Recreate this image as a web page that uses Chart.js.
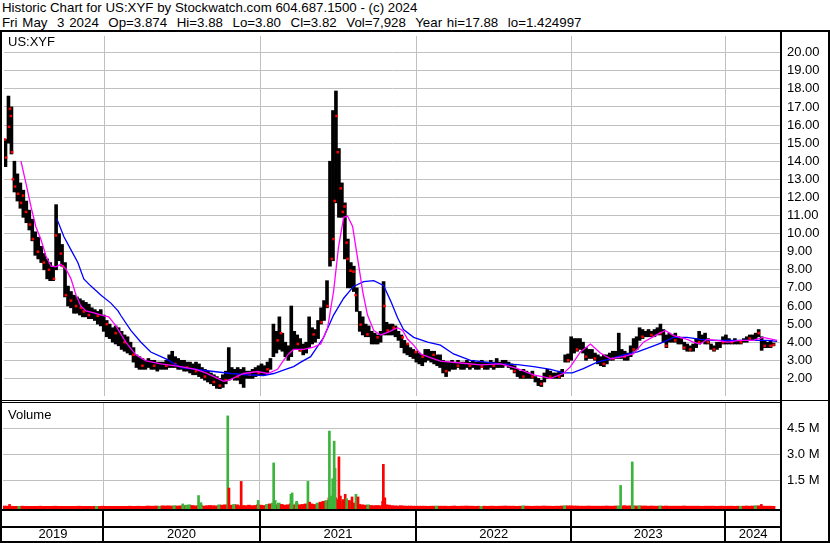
<!DOCTYPE html>
<html>
<head>
<meta charset="utf-8">
<title>Historic Chart US:XYF</title>
<script src="https://cdn.jsdelivr.net/npm/chart.js@4.4.1/dist/chart.umd.min.js"></script>
<style>
  html, body { margin: 0; padding: 0; background: #fff; }
  body { width: 830px; height: 543px; position: relative; overflow: hidden; font-family: "Liberation Sans", Arial, sans-serif; }
  .hdr { position: absolute; left: 2px; font-size: 13.3px; line-height: 15px; white-space: pre; color: #000; }
  .lbl { position: absolute; left: 8px; font-size: 13px; color: #000; }
  .rule { position: absolute; background: #000; }
  canvas { position: absolute; left: 0; }
</style>
</head>
<body>
<div class="hdr" style="top:0px">Historic Chart for US:XYF by Stockwatch.com 604.687.1500 - (c) 2024</div>
<div class="hdr" style="top:15px;word-spacing:1.1px">Fri May  3 2024  Op=3.874  Hi=3.88  Lo=3.80  Cl=3.82  Vol=7,928  Year hi=17.88  lo=1.424997</div>

<canvas id="priceChart" width="830" height="368" style="top:32px"></canvas>
<canvas id="volumeChart" width="830" height="140" style="top:403px"></canvas>

<div class="lbl" style="top:34px">US:XYF</div>
<div class="lbl" style="top:407px">Volume</div>

<!-- black frame -->
<div class="rule" style="left:0;top:30px;width:830px;height:2px"></div>
<div class="rule" style="left:0;top:30px;width:2px;height:513px"></div>
<div class="rule" style="left:780px;top:30px;width:2px;height:513px"></div>
<div class="rule" style="left:828px;top:30px;width:2px;height:513px"></div>
<div class="rule" style="left:0;top:400px;width:830px;height:1px"></div>
<div class="rule" style="left:0;top:402px;width:781px;height:1px"></div>
<div class="rule" style="left:0;top:509px;width:781px;height:2px"></div>
<div class="rule" style="left:0;top:526px;width:781px;height:2px"></div>
<div class="rule" style="left:0;top:541px;width:830px;height:2px"></div>

<script>
// ---------------------------------------------------------------
// data (weekly, week 0 = first week of May 2019)
// ---------------------------------------------------------------
const yearLabels = ['2019', '2020', '2021', '2022', '2023', '2024']
const yearStarts = [33.6, 86.2, 138.6, 190.6, 242.3]   // week where a new year begins
const weekSpan = 261

const priceTicks = [20, 19, 18, 17, 16, 15, 14, 13, 12, 11, 10, 9, 8, 7, 6, 5, 4, 3, 2]
const priceTickLabels = ['20.00', '19.00', '18.00', '17.00', '16.00', '15.00', '14.00', '13.00', '12.00',
  '11.00', '10.00', '9.00', '8.00', '7.00', '6.00', '5.00', '4.00', '3.00', '2.00']
const volTicks = [1.5, 3.0, 4.5]
const volTickLabels = ['1.5 M', '3.0 M', '4.5 M']

const weekHigh = [
  15.2, 17.6, 17.0, 14.0, 13.3, 12.8, 12.4, 11.8, 11.3, 10.8,
  10.1, 9.8, 9.3, 8.9, 8.6, 8.4, 8.2, 11.6, 10.0, 9.4,
  8.4, 7.1, 6.8, 6.6, 6.5, 6.4, 6.3, 6.2, 6.1, 5.9,
  5.8, 5.7, 5.8, 5.5, 5.2, 5.0, 4.8, 4.9, 4.8, 4.6,
  4.4, 4.3, 4.0, 3.7, 3.3, 3.2, 3.1, 3.0, 3.1, 3.0,
  3.0, 2.9, 2.9, 2.9, 3.0, 3.3, 3.5, 3.2, 3.1, 3.0,
  3.0, 2.9, 2.9, 2.8, 2.9, 2.8, 2.6, 2.5, 2.4, 2.3,
  2.2, 2.1, 2.0, 2.2, 2.4, 3.7, 2.6, 2.5, 2.6, 2.5,
  2.6, 2.4, 2.4, 2.5, 2.6, 2.7, 2.8, 2.7, 2.9, 3.1,
  5.0, 4.6, 5.4, 4.5, 4.0, 3.8, 6.0, 4.6, 4.4, 4.2,
  3.9, 4.0, 5.4, 4.8, 4.7, 5.2, 5.9, 6.3, 7.4, 14.0,
  16.8, 17.88, 14.7, 12.8, 11.7, 9.7, 8.4, 8.2, 7.0, 5.7,
  5.4, 5.0, 4.9, 4.6, 4.5, 4.4, 4.6, 7.35, 5.1, 5.0,
  5.0, 4.9, 4.6, 4.4, 4.1, 3.9, 3.7, 3.6, 3.5, 3.4,
  3.3, 3.6, 3.6, 3.5, 3.5, 3.3, 3.3, 3.0, 2.9, 2.9,
  3.0, 2.9, 3.0, 2.9, 2.9, 3.0, 2.9, 3.0, 2.9, 2.9,
  3.0, 2.9, 2.9, 3.0, 2.9, 3.1, 2.9, 3.0, 3.0, 2.9,
  2.8, 2.7, 2.5, 2.4, 2.5, 2.4, 2.3, 2.4, 2.1, 2.0,
  1.9, 2.3, 2.5, 2.4, 2.3, 2.3, 2.4, 2.5, 3.3, 3.35,
  4.3, 4.2, 4.2, 4.2, 4.0, 3.7, 3.6, 3.6, 3.4, 3.3,
  3.2, 3.3, 3.3, 3.4, 3.5, 3.5, 4.5, 3.6, 3.5, 3.4,
  3.8, 4.2, 4.3, 4.8, 4.7, 4.6, 4.7, 4.6, 4.7, 4.8,
  5.0, 4.7, 4.4, 4.5, 4.4, 4.5, 4.3, 4.2, 4.0, 3.9,
  3.8, 3.9, 4.2, 4.6, 4.4, 4.5, 4.2, 3.9, 3.8, 4.0,
  4.0, 4.3, 4.4, 4.2, 4.1, 4.2, 4.1, 4.1, 4.2, 4.3,
  4.4, 4.4, 4.5, 4.7, 4.3, 4.1, 4.0, 4.1, 3.95
]

const weekLow = [
  13.7, 15.0, 14.4, 12.3, 11.8, 11.4, 10.9, 10.6, 10.2, 9.6,
  8.8, 8.6, 8.4, 8.0, 7.5, 7.4, 7.4, 8.0, 8.5, 8.2,
  6.5, 6.0, 5.9, 5.6, 5.6, 5.5, 5.4, 5.4, 5.3, 5.3,
  5.2, 5.0, 4.9, 4.6, 4.3, 4.2, 4.0, 3.9, 3.8, 3.6,
  3.5, 3.4, 3.3, 2.9, 2.6, 2.5, 2.5, 2.5, 2.6, 2.5,
  2.5, 2.4, 2.5, 2.5, 2.5, 2.6, 2.6, 2.6, 2.5, 2.5,
  2.4, 2.4, 2.3, 2.2, 2.2, 2.1, 2.0, 1.9, 1.8, 1.7,
  1.6, 1.45, 1.43, 1.5, 1.7, 1.9, 2.0, 1.9, 1.9, 1.7,
  1.5, 2.0, 2.0, 2.0, 2.1, 2.2, 2.2, 2.2, 2.3, 2.5,
  3.2, 3.4, 3.6, 3.5, 3.2, 3.0, 3.2, 3.6, 3.6, 3.5,
  3.3, 3.4, 3.7, 3.9, 4.0, 4.2, 5.0, 5.2, 5.9, 8.2,
  8.5, 11.7, 10.9, 10.9, 8.6, 7.0, 7.0, 6.8, 5.7, 4.6,
  4.4, 4.3, 4.3, 3.9, 3.9, 3.9, 4.0, 4.4, 4.4, 4.4,
  4.4, 4.3, 4.1, 3.7, 3.4, 3.3, 3.2, 3.1, 2.9, 2.8,
  2.7, 2.9, 3.0, 2.9, 2.8, 2.7, 2.6, 2.3, 2.1, 2.4,
  2.5, 2.5, 2.6, 2.5, 2.5, 2.6, 2.5, 2.6, 2.5, 2.5,
  2.6, 2.5, 2.5, 2.6, 2.5, 2.6, 2.6, 2.6, 2.7, 2.6,
  2.5, 2.3, 2.1, 2.0, 2.0, 2.0, 2.0, 2.0, 1.8, 1.6,
  1.55, 1.8, 2.0, 2.0, 2.0, 2.0, 2.0, 2.1, 2.9, 2.9,
  3.0, 3.4, 3.5, 3.6, 3.4, 3.0, 3.1, 3.1, 3.0, 2.8,
  2.7, 2.65, 2.8, 3.0, 3.0, 3.1, 3.1, 3.1, 3.0, 3.0,
  3.2, 3.5, 3.6, 4.1, 4.2, 4.3, 4.3, 4.3, 4.3, 4.4,
  4.4, 4.0, 3.7, 4.0, 4.0, 4.0, 3.9, 3.9, 3.6, 3.5,
  3.5, 3.5, 3.7, 3.9, 4.0, 3.9, 3.9, 3.6, 3.5, 3.6,
  3.7, 3.9, 3.9, 3.9, 3.9, 3.9, 3.9, 3.9, 4.0, 4.0,
  4.1, 4.1, 4.2, 4.3, 3.55, 3.7, 3.7, 3.7, 3.8
]

// red close ticks visible on the bars
const redDotWeeks = [0.2, 0.7, 1.7, 2.0, 2.3, 2.7, 3.0, 3.7, 4.7, 5.7,
  6.4, 7.4, 8.7, 9.7, 11.4, 13.4, 15.1, 16.8, 17.4, 19.1,
  19.8, 20.8, 22.5, 24.2, 25.8, 26.8, 28.5, 31.5, 34.5, 37.5,
  40.5, 43.5, 46.5, 50.5, 54.5, 57.5, 61.5, 64.5, 67.5, 70.5,
  72.5, 74.5, 78.5, 82.5, 85.5, 88.5, 91.9, 93.0, 98.7, 99.7,
  104.0, 106.7, 108.7, 110.1, 110.7, 111.1, 111.7, 112.1, 113.1, 113.8,
  114.4, 115.1, 115.4, 116.4, 117.4, 118.1, 119.8, 122.1, 125.5, 127.8,
  128.9, 130.9, 133.9, 135.6, 138.3, 140.6, 144.3, 148.5, 152.5, 156.5,
  160.5, 164.5, 168.5, 171.5, 174.5, 177.5, 180.5, 183.5, 186.5, 189.5,
  192.5, 195.5, 198.5, 201.5, 204.5, 208.5, 211.5, 214.5, 217.5, 220.5,
  222.5, 225.5, 228.5, 230.5, 233.5, 236.5, 238.5, 241.5, 244.5, 247.5,
  250.5, 253.5, 255.5, 257.5, 258.5]
const redDotVals = [15.2, 14.2, 15.9, 16.9, 16.5, 14.5, 13.0, 12.6, 12.2, 11.7,
  12.1, 11.2, 10.5, 9.7, 9.0, 8.4, 8.0, 7.5, 9.9, 8.9,
  8.2, 6.6, 6.3, 6.0, 5.9, 5.7, 5.5, 5.46, 5.0, 4.5,
  4.0, 3.3, 2.7, 2.7, 2.7, 2.8, 2.6, 2.4, 2.1, 1.8,
  1.6, 1.9, 2.1, 2.2, 2.3, 2.5, 4.1, 4.5, 3.9, 3.55,
  4.43, 5.1, 6.0, 8.6, 9.7, 11.8, 16.5, 14.5, 12.5, 11.2,
  11.5, 9.5, 8.6, 7.95, 7.9, 6.6, 4.97, 4.43, 4.27, 6.0,
  4.65, 4.8, 4.27, 3.9, 3.45, 3.2, 3.3, 2.4, 2.7, 2.7,
  2.65, 2.7, 2.75, 2.4, 2.1, 2.1, 1.7, 2.1, 2.1, 3.0,
  3.6, 3.2, 3.1, 2.8, 3.1, 3.2, 3.6, 4.3, 4.4, 4.5,
  3.8, 4.1, 3.7, 3.6, 4.0, 4.0, 3.6, 4.0, 4.0, 4.0,
  4.2, 4.5, 3.8, 3.8, 3.85]

// short moving average (magenta)
const maFastWeeks = [5.7, 7.4, 9.1, 10.7, 12.4, 14.1, 15.8, 17.4, 19.1, 20.8,
  22.5, 24.2, 25.8, 27.5, 30.2, 33.6, 35.2, 37.6, 40.9, 44.3,
  47.7, 52.7, 59.4, 64.4, 67.8, 70.5, 73.8, 76.2, 80.5, 85.2,
  88.6, 91.9, 93.9, 95.6, 97.3, 100.7, 104.0, 106.4, 108.7, 110.7,
  112.4, 114.1, 115.4, 117.1, 118.8, 120.5, 122.1, 124.2, 126.5, 128.9,
  132.2, 133.9, 135.6, 137.6, 139.9, 142.3, 146.6, 153.4, 160.1, 166.8,
  172.5, 177.9, 183.6, 187.9, 190.3, 193.6, 197.0, 200.3, 203.7, 208.1,
  211.4, 214.8, 219.5, 222.1, 224.8, 229.5, 231.5, 233.9, 236.2, 239.6,
  243.0, 247.3, 251.7, 255.0, 259.7]
const maFastVals = [14.0, 12.76, 11.46, 10.38, 9.68, 8.76, 8.2, 8.16, 8.3, 8.05,
  7.5, 6.6, 6.0, 5.73, 5.62, 5.46, 5.4, 4.9, 4.0, 3.3,
  2.97, 2.8, 2.65, 2.5, 2.3, 2.1, 1.84, 1.95, 2.27, 2.38,
  2.27, 2.5, 3.0, 3.35, 3.6, 3.6, 3.73, 3.9, 4.8, 6.8,
  9.3, 10.9, 10.97, 10.4, 8.6, 6.8, 5.5, 4.65, 4.4, 4.54,
  4.8, 4.65, 4.16, 3.84, 3.35, 3.2, 2.95, 2.85, 2.75, 2.8,
  2.54, 2.2, 2.0, 2.27, 2.65, 3.46, 3.9, 3.4, 3.08, 3.2,
  3.35, 4.0, 4.43, 4.65, 4.38, 4.16, 4.0, 3.9, 4.16, 4.1,
  4.0, 4.1, 4.1, 4.27, 4.1]

// long moving average (blue)
const maSlowWeeks = [17.8, 20.1, 22.5, 24.8, 26.8, 29.2, 32.6, 35.9, 38.3, 39.3,
  42.6, 46.0, 49.3, 54.4, 59.4, 70.5, 76.2, 81.9, 87.2, 90.6,
  95.3, 97.3, 99.7, 103.0, 107.4, 110.7, 114.1, 117.4, 120.8, 124.2,
  127.5, 129.9, 132.2, 134.2, 137.6, 142.3, 146.6, 151.0, 156.7, 166.8,
  172.5, 177.9, 183.6, 187.9, 190.9, 194.6, 199.3, 203.7, 208.1, 212.8,
  217.1, 221.5, 224.8, 229.5, 233.9, 238.3, 247.3, 256.4, 259.7]
const maSlowVals = [10.8, 9.84, 9.1, 8.4, 7.5, 7.1, 6.6, 6.16, 5.73, 5.46,
  4.65, 4.0, 3.46, 3.08, 2.6, 2.38, 2.27, 2.2, 2.16, 2.27,
  2.54, 2.65, 2.9, 3.2, 4.27, 5.5, 6.43, 7.08, 7.35, 7.4,
  7.14, 6.27, 5.35, 4.7, 4.27, 4.0, 3.84, 3.35, 3.0, 2.8,
  2.76, 2.65, 2.5, 2.3, 2.3, 2.54, 2.9, 3.08, 3.3, 3.46,
  3.73, 4.0, 4.27, 4.27, 4.16, 4.1, 4.1, 4.1, 4.05]

// volume in millions: small weekly base + the visible spikes
const volBase = [
  0.03, 0.02, 0.02, 0.01, 0.01, 0.01, 0.02, 0.01, 0.01, 0.01,
  0.01, 0.01, 0.02, 0.01, 0.01, 0.01, 0.01, 0.02, 0.01, 0.01,
  0.01, 0.01, 0.01, 0.01, 0.01, 0.02, 0.01, 0.01, 0.01, 0.01,
  0.01, 0.01, 0.01, 0.02, 0.01, 0.01, 0.01, 0.01, 0.01, 0.01,
  0.01, 0.01, 0.02, 0.01, 0.01, 0.02, 0.01, 0.01, 0.03, 0.02,
  0.02, 0.03, 0.02, 0.04, 0.03, 0.04, 0.03, 0.05, 0.03, 0.04,
  0.05, 0.08, 0.10, 0.06, 0.04, 0.05, 0.08, 0.03, 0.05, 0.06,
  0.05, 0.04, 0.10, 0.08, 0.10, 0.06, 0.08, 0.12, 0.10, 0.05,
  0.06, 0.05, 0.08, 0.05, 0.06, 0.10, 0.08, 0.06, 0.12, 0.15,
  0.20, 0.10, 0.20, 0.12, 0.08, 0.10, 0.15, 0.10, 0.20, 0.10,
  0.12, 0.15, 0.20, 0.15, 0.12, 0.20, 0.25, 0.30, 0.35, 0.50,
  0.40, 0.50, 0.40, 0.30, 0.35, 0.25, 0.30, 0.20, 0.15, 0.12,
  0.10, 0.08, 0.10, 0.06, 0.05, 0.06, 0.05, 0.30, 0.10, 0.08,
  0.05, 0.04, 0.03, 0.05, 0.03, 0.02, 0.03, 0.02, 0.02, 0.02,
  0.02, 0.02, 0.01, 0.02, 0.02, 0.03, 0.02, 0.02, 0.02, 0.01,
  0.02, 0.03, 0.01, 0.02, 0.02, 0.03, 0.02, 0.02, 0.01, 0.02,
  0.01, 0.02, 0.01, 0.02, 0.02, 0.01, 0.02, 0.02, 0.03, 0.02,
  0.02, 0.02, 0.01, 0.02, 0.04, 0.02, 0.02, 0.01, 0.02, 0.02,
  0.02, 0.03, 0.02, 0.02, 0.01, 0.02, 0.02, 0.03, 0.05, 0.04,
  0.04, 0.03, 0.03, 0.02, 0.02, 0.02, 0.03, 0.02, 0.02, 0.02,
  0.02, 0.02, 0.03, 0.02, 0.02, 0.03, 0.04, 0.03, 0.05, 0.03,
  0.04, 0.05, 0.03, 0.05, 0.03, 0.03, 0.02, 0.03, 0.02, 0.02,
  0.04, 0.02, 0.03, 0.02, 0.02, 0.02, 0.02, 0.02, 0.03, 0.02,
  0.02, 0.02, 0.02, 0.02, 0.01, 0.02, 0.02, 0.02, 0.02, 0.01,
  0.02, 0.02, 0.01, 0.02, 0.02, 0.01, 0.02, 0.02, 0.02, 0.03,
  0.02, 0.03, 0.05, 0.04, 0.03, 0.02, 0.02, 0.02, 0.01
]
const volBaseGreenWeeks = [5, 31, 52, 57, 61, 62, 66, 72, 77, 88, 90, 92, 98, 102, 105, 108, 110,
  113, 116, 122, 145, 160, 174, 188, 206, 211, 213, 220, 247, 252]

const spikeWeeks = [2.2, 60.3, 65.6, 66.4, 75.4, 75.8, 79.9, 85.6, 90.8, 91.3,
  96.6, 97.0, 98.5, 102.3, 102.9, 109.5, 110.0, 110.6, 111.1, 111.4,
  112.7, 113.2, 114.1, 114.8, 115.3, 116.2, 117.1, 118.4, 119.1, 127.6,
  128.1, 207.2, 211.1, 254.4]
const spikeVols = [0.12, 0.15, 0.63, 0.22, 5.2, 1.06, 1.44, 0.35, 2.5, 0.35,
  0.7, 0.78, 0.3, 1.44, 0.25, 4.33, 0.6, 1.6, 3.75, 2.2,
  2.85, 0.6, 0.4, 0.7, 0.45, 0.35, 0.55, 0.7, 0.55, 2.42,
  0.5, 1.21, 2.56, 0.12]
const spikeUp = [0, 1, 1, 1, 1, 0, 0, 1, 1, 1,
  1, 1, 1, 1, 0, 1, 1, 1, 1, 1,
  0, 0, 0, 0, 1, 0, 0, 1, 0, 0,
  0, 1, 1, 0]

// ---------------------------------------------------------------
// look
// ---------------------------------------------------------------
const GRID = '#c0c0c0'
const UP = '#3cb43c'
const DOWN = '#ff0000'
const VOL_FLOOR = -0.2   // bars start at the bottom of the panel

Chart.defaults.font.family = '"Liberation Sans", Arial, sans-serif'
Chart.defaults.font.size = 13
Chart.defaults.color = '#000'

const yearMids = [0, ...yearStarts].map((s, i) => (s + ([...yearStarts, weekSpan][i])) / 2)

const commonPlugins = { legend: { display: false }, tooltip: { enabled: false } }

// keep the chart area exactly where the layout says (no label overflow padding)
function noPad(axis) {
  axis.paddingTop = 0
  axis.paddingBottom = 0
  axis.paddingLeft = 0
  axis.paddingRight = 0
}

// price panel
new Chart(document.getElementById('priceChart'), {
  type: 'bar',
  data: {
    datasets: [
      {
        type: 'line',
        data: maFastWeeks.map((w, i) => ({ x: w, y: maFastVals[i] })),
        borderColor: '#ff00ff',
        borderWidth: 1.3,
        pointRadius: 0,
        order: 1
      },
      {
        type: 'line',
        data: maSlowWeeks.map((w, i) => ({ x: w, y: maSlowVals[i] })),
        borderColor: '#0000ff',
        borderWidth: 1.3,
        pointRadius: 0,
        order: 2
      },
      {
        type: 'line',
        data: redDotWeeks.map((w, i) => ({ x: w, y: redDotVals[i] })),
        showLine: false,
        pointStyle: 'rect',
        pointRadius: 1.8,
        pointBorderWidth: 0,
        pointBackgroundColor: '#ff0000',
        order: 3
      },
      {
        type: 'bar',
        data: weekHigh.map((h, i) => ({ x: i + 0.5, y: [weekLow[i], h] })),
        backgroundColor: '#000',
        barPercentage: 1,
        categoryPercentage: 1,
        order: 4
      }
    ]
  },
  options: {
    responsive: false,
    animation: false,
    devicePixelRatio: 1,
    layout: { padding: { left: 3, right: 0, top: 0, bottom: 0 } },
    plugins: commonPlugins,
    scales: {
      x: {
        type: 'linear',
        min: 0,
        max: weekSpan,
        offset: false,
        grid: { color: GRID, drawTicks: false, offset: false },
        border: { display: false },
        ticks: { display: false },
        afterBuildTicks: (axis) => { axis.ticks = yearStarts.map(v => ({ value: v })) },
        afterFit: (axis) => { axis.height = 0; noPad(axis) }
      },
      y: {
        position: 'right',
        min: 1.027,
        max: 20.919,
        grid: { color: GRID, drawTicks: false },
        border: { display: false },
        ticks: {
          padding: 6,
          autoSkip: false,
          callback: (v, i) => priceTickLabels[i]
        },
        afterBuildTicks: (axis) => { axis.ticks = priceTicks.map(v => ({ value: v })) },
        afterFit: (axis) => { axis.width = 49; noPad(axis) }
      }
    }
  }
})

// black separators in the year strip under the volume panel
const yearSeparators = {
  id: 'yearSeparators',
  afterDraw(chart) {
    const { ctx, chartArea, scales } = chart
    ctx.save()
    ctx.fillStyle = '#000'
    yearStarts.forEach(w => {
      const px = Math.round(scales.x.getPixelForValue(w))
      ctx.fillRect(px - 1, chartArea.bottom, 2, chart.height - chartArea.bottom)
    })
    ctx.restore()
  }
}

// volume panel + year axis
new Chart(document.getElementById('volumeChart'), {
  type: 'bar',
  data: {
    datasets: [
      {
        data: spikeWeeks.map((w, i) => ({ x: w, y: [VOL_FLOOR, spikeVols[i]] })),
        backgroundColor: spikeUp.map(u => u ? UP : DOWN),
        barThickness: 2,
        grouped: false,
        order: 1
      },
      {
        data: volBase.map((v, i) => ({ x: i + 0.5, y: [VOL_FLOOR, v] })),
        backgroundColor: volBase.map((v, i) => volBaseGreenWeeks.includes(i) ? UP : DOWN),
        barThickness: 3,
        grouped: false,
        order: 2
      }
    ]
  },
  options: {
    responsive: false,
    animation: false,
    devicePixelRatio: 1,
    layout: { padding: { left: 3, right: 0, top: 0, bottom: 0 } },
    plugins: commonPlugins,
    scales: {
      x: {
        type: 'linear',
        min: 0,
        max: weekSpan,
        offset: false,
        grid: {
          offset: false,
          drawTicks: false,
          color: (ctx) => (ctx.tick && yearStarts.includes(ctx.tick.value)) ? GRID : 'rgba(0,0,0,0)'
        },
        border: { display: false },
        ticks: {
          padding: 17,
          autoSkip: false,
          maxRotation: 0,
          callback: (v) => {
            const k = yearMids.indexOf(v)
            return k >= 0 ? yearLabels[k] : ''
          }
        },
        afterBuildTicks: (axis) => {
          axis.ticks = [...yearStarts, ...yearMids].sort((a, b) => a - b).map(v => ({ value: v }))
        },
        afterFit: (axis) => { axis.height = 33; noPad(axis) }
      },
      y: {
        position: 'right',
        min: VOL_FLOOR,
        max: 5.94,
        grid: { color: GRID, drawTicks: false },
        border: { display: false },
        ticks: {
          padding: 6,
          autoSkip: false,
          callback: (v, i) => volTickLabels[i]
        },
        afterBuildTicks: (axis) => { axis.ticks = volTicks.map(v => ({ value: v })) },
        afterFit: (axis) => { axis.width = 49; noPad(axis) }
      }
    }
  },
  plugins: [yearSeparators]
})
</script>
</body>
</html>
